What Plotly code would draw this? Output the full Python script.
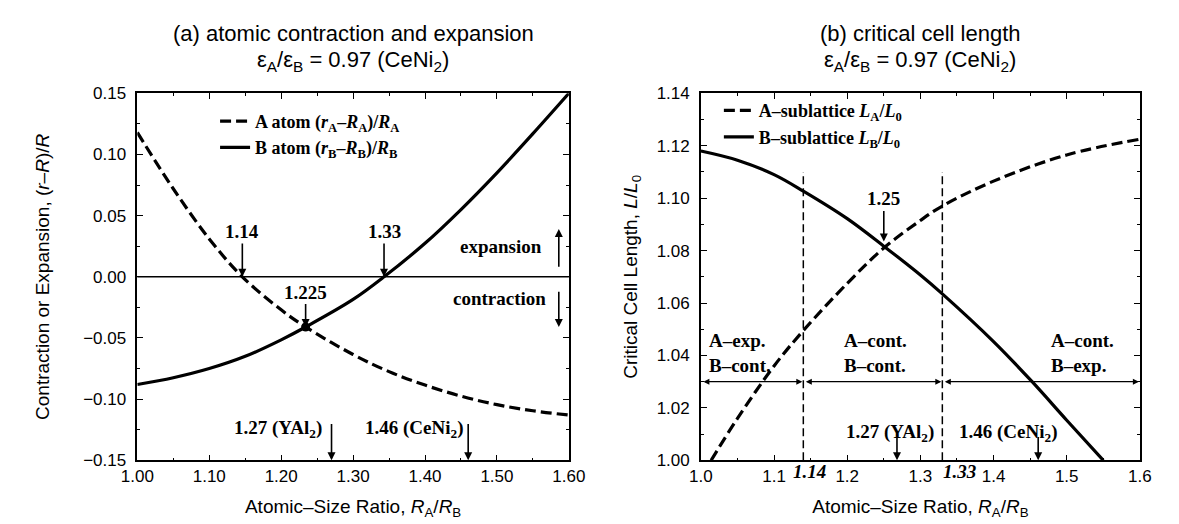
import plotly.graph_objects as go

# ---------------- data: panel (a) ----------------
a_Ax = [1.00, 1.05, 1.10, 1.146, 1.20, 1.234, 1.30, 1.35, 1.40, 1.45, 1.50, 1.55, 1.60]
a_A = [0.118, 0.072, 0.031, 0.0, -0.027, -0.041, -0.0635, -0.0775, -0.0885, -0.0975, -0.1045, -0.1095, -0.113]
a_Bx = [1.00, 1.05, 1.10, 1.15, 1.20, 1.234, 1.30, 1.343, 1.40, 1.45, 1.50, 1.55, 1.60]
a_B = [-0.088, -0.0825, -0.075, -0.065, -0.0515, -0.041, -0.0185, 0.0, 0.0274, 0.055, 0.085, 0.117, 0.150]
a_cross_x = [1.234]
a_cross_y = [-0.041]
a_xticks = [1.00, 1.10, 1.20, 1.30, 1.40, 1.50, 1.60]
a_yticks = [-0.15, -0.10, -0.05, 0.00, 0.05, 0.10, 0.15]

# ---------------- data: panel (b) ----------------
b_Ax = [1.014, 1.05, 1.10, 1.14, 1.20, 1.25, 1.30, 1.33, 1.40, 1.50, 1.60]
b_A = [1.000, 1.016, 1.036, 1.0495, 1.0675, 1.081, 1.0915, 1.097, 1.1065, 1.1165, 1.1225]
b_Bx = [1.00, 1.05, 1.10, 1.14, 1.20, 1.25, 1.30, 1.33, 1.40, 1.453, 1.50, 1.55]
b_B = [1.118, 1.1145, 1.109, 1.1027, 1.0922, 1.0817, 1.0707, 1.0635, 1.0453, 1.0299, 1.0153, 1.000]
b_xticks = [1.0, 1.1, 1.2, 1.3, 1.4, 1.5, 1.6]
b_yticks = [1.00, 1.02, 1.04, 1.06, 1.08, 1.10, 1.12, 1.14]
b_bounds = [1.0, 1.14, 1.33, 1.6]
b_region_labels = ["A–exp.<br>B–cont.", "A–cont.<br>B–cont.", "A–cont.<br>B–exp."]
b_region_centers = [1.054, 1.238, 1.522]

SANS = "Liberation Sans, Arial, sans-serif"
SERIF = "Liberation Serif, Times New Roman, serif"
DASH = "11px,5px"
TICK = dict(family=SANS, size=17, color="black")
ATITLE = dict(family=SANS, size=19, color="black")

fig = go.Figure()

# panel (a) curves
fig.add_trace(go.Scatter(
    x=a_Ax, y=a_A, mode="lines", line=dict(color="black", width=3.2, dash=DASH, shape="spline"),
    name="<b>A atom (<i>r</i><sub>A</sub>–<i>R</i><sub>A</sub>)/<i>R</i><sub>A</sub></b>",
    xaxis="x", yaxis="y", legend="legend"))
fig.add_trace(go.Scatter(
    x=a_Bx, y=a_B, mode="lines", line=dict(color="black", width=3.2, shape="spline"),
    name="<b>B atom (<i>r</i><sub>B</sub>–<i>R</i><sub>B</sub>)/<i>R</i><sub>B</sub></b>",
    xaxis="x", yaxis="y", legend="legend"))
fig.add_trace(go.Scatter(
    x=a_cross_x, y=a_cross_y, mode="markers", marker=dict(color="black", size=9),
    showlegend=False, xaxis="x", yaxis="y"))

# panel (b) curves
fig.add_trace(go.Scatter(
    x=b_Ax, y=b_A, mode="lines", line=dict(color="black", width=3.2, dash=DASH, shape="spline"),
    name="<b>A–sublattice <i>L</i><sub>A</sub>/<i>L</i><sub>0</sub></b>",
    xaxis="x2", yaxis="y2", legend="legend2"))
fig.add_trace(go.Scatter(
    x=b_Bx, y=b_B, mode="lines", line=dict(color="black", width=3.2, shape="spline"),
    name="<b>B–sublattice <i>L</i><sub>B</sub>/<i>L</i><sub>0</sub></b>",
    xaxis="x2", yaxis="y2", legend="legend2"))

axis_common = dict(
    showline=True, linecolor="black", linewidth=1.5, mirror="allticks",
    ticks="inside", ticklen=6, tickwidth=1.3, tickcolor="black",
    showgrid=False, zeroline=False, tickfont=TICK,
)

def minor(dt, t0):
    return dict(ticks="inside", ticklen=3, tickcolor="black", tickwidth=1, dtick=dt, tick0=t0)

fig.update_layout(
    width=1179, height=524,
    margin=dict(l=0, r=0, t=0, b=0),
    paper_bgcolor="white", plot_bgcolor="white",
    showlegend=True,
    xaxis=dict(axis_common, domain=[0.0981, 0.475], range=[1.0, 1.6],
               tickvals=a_xticks, tickformat=".2f", anchor="y", minor=minor(0.05, 1.0),
               title=dict(text="Atomic–Size Ratio, <i>R</i><sub>A</sub>/<i>R</i><sub>B</sub>",
                          font=ATITLE, standoff=14)),
    yaxis=dict(axis_common, domain=[0.1221, 0.8489], range=[-0.15, 0.15],
               tickvals=a_yticks, tickformat=".2f", anchor="x", minor=minor(0.025, 0),
               ticklabelstandoff=6,
               title=dict(text="Contraction or Expansion, (<i>r</i>–<i>R</i>)/<i>R</i>",
                          font=ATITLE, standoff=28)),
    xaxis2=dict(axis_common, domain=[0.5903, 0.9737], range=[1.0, 1.6],
                tickvals=b_xticks, tickformat=".1f", anchor="y2", minor=minor(0.05, 1.0),
                title=dict(text="Atomic–Size Ratio, <i>R</i><sub>A</sub>/<i>R</i><sub>B</sub>",
                           font=ATITLE, standoff=14)),
    yaxis2=dict(axis_common, domain=[0.1221, 0.8489], range=[1.0, 1.14],
                tickvals=b_yticks, tickformat=".2f", anchor="x2", minor=minor(0.01, 1.0),
                ticklabelstandoff=6,
                title=dict(text="Critical Cell Length, <i>L</i>/<i>L</i><sub>0</sub>",
                           font=ATITLE, standoff=14)),
    legend=dict(x=0.166, y=0.830, xanchor="left", yanchor="top", bgcolor="rgba(0,0,0,0)",
                font=dict(family=SERIF, size=18, color="black"), itemwidth=30, tracegroupgap=0),
    legend2=dict(x=0.606, y=0.851, xanchor="left", yanchor="top", bgcolor="rgba(0,0,0,0)",
                 font=dict(family=SERIF, size=18, color="black"), itemwidth=30, tracegroupgap=0),
)

ann = []
# titles
for xc, t1 in [(0.2865, "(a) atomic contraction and expansion"), (0.782, "(b) critical cell length")]:
    ann.append(dict(xref="paper", yref="paper", x=xc, y=1 - 17 / 524, text=t1, showarrow=False,
                    font=dict(family=SANS, size=22, color="black"), xanchor="center", yanchor="middle"))
    ann.append(dict(xref="paper", yref="paper", x=xc, y=1 - 46 / 524,
                    text="ε<sub>A</sub>/ε<sub>B</sub> = 0.97 (CeNi<sub>2</sub>)", showarrow=False,
                    font=dict(family=SANS, size=22, color="black"), xanchor="center", yanchor="middle"))

bold = dict(family=SERIF, size=19, color="black")

def arrow_label(xr, yr, text, x, y, ax, ay, **kw):
    d = dict(xref=xr, yref=yr, axref=xr, ayref=yr, x=x, y=y, ax=ax, ay=ay,
             text=text, showarrow=True, arrowhead=2, arrowsize=1, arrowwidth=1.6,
             arrowcolor="black", font=bold, standoff=0, startstandoff=0)
    d.update(kw)
    return d

# panel (a) labels
ann.append(arrow_label("x", "y", "<b>1.14</b>", a_Ax[3], 0.0, a_Ax[3], 0.037))
ann.append(arrow_label("x", "y", "<b>1.33</b>", a_Bx[7], 0.0, a_Bx[7], 0.037))
ann.append(arrow_label("x", "y", "<b>1.225</b>", a_cross_x[0], a_cross_y[0], a_cross_x[0], -0.0125))
ann.append(dict(xref="x", yref="y", x=1.505, y=0.025, text="<b>expansion</b>", showarrow=False, font=bold))
ann.append(dict(xref="x", yref="y", x=1.503, y=-0.018, text="<b>contraction</b>", showarrow=False, font=bold))
ann.append(arrow_label("x", "y", "", 1.586, 0.039, 1.586, 0.007))
ann.append(arrow_label("x", "y", "", 1.586, -0.041, 1.586, -0.011))
ann.append(dict(xref="x", yref="y", x=1.195, y=-0.1245, text="<b>1.27 (YAl<sub>2</sub>)</b>", showarrow=False, font=bold))
ann.append(dict(xref="x", yref="y", x=1.384, y=-0.1245, text="<b>1.46 (CeNi<sub>2</sub>)</b>", showarrow=False, font=bold))
ann.append(arrow_label("x", "y", "", 1.27, -0.15, 1.27, -0.119))
ann.append(arrow_label("x", "y", "", 1.46, -0.15, 1.46, -0.119))

# panel (b) labels
ann.append(arrow_label("x2", "y2", "<b>1.25</b>", 1.25, 1.0835, 1.25, 1.0997))
ann.append(dict(xref="x2", yref="y2", x=1.258, y=1.0105, text="<b>1.27 (YAl<sub>2</sub>)</b>", showarrow=False, font=bold))
ann.append(dict(xref="x2", yref="y2", x=1.42, y=1.0105, text="<b>1.46 (CeNi<sub>2</sub>)</b>", showarrow=False, font=bold))
ann.append(arrow_label("x2", "y2", "", 1.268, 1.0, 1.268, 1.0095))
ann.append(arrow_label("x2", "y2", "", 1.461, 1.0, 1.461, 1.0095))
for xc, lab in zip(b_region_centers, b_region_labels):
    ann.append(dict(xref="x2", yref="y2", x=xc, y=1.041, text="<b>" + lab + "</b>", showarrow=False,
                    font=bold, align="left"))
for i in range(3):
    ann.append(dict(xref="x2", yref="y2", axref="x2", ayref="y2", x=b_bounds[i + 1], y=1.03,
                    ax=b_bounds[i], ay=1.03, text="", showarrow=True, arrowhead=2, startarrowhead=2,
                    arrowside="end+start", arrowsize=1, arrowwidth=1.2, arrowcolor="black",
                    standoff=1, startstandoff=1))
for xv, xs in zip(b_bounds[1:3], [6, 17]):
    ann.append(dict(xref="x2", yref="paper", x=xv, y=1 - 472 / 524, text="<b><i>%.2f</i></b>" % xv,
                    showarrow=False, font=bold, yanchor="middle", xshift=xs))

fig.update_layout(annotations=ann)

shapes = [
    dict(type="line", xref="x domain", yref="y", x0=0, x1=1, y0=0, y1=0, line=dict(color="black", width=1.5)),
]
for xv in b_bounds[1:3]:
    shapes.append(dict(type="line", xref="x2", yref="y2", x0=xv, x1=xv, y0=1.0, y1=1.11,
                       line=dict(color="black", width=1.5, dash="8px,4px")))
fig.update_layout(shapes=shapes)

fig.write_html("out.html")
